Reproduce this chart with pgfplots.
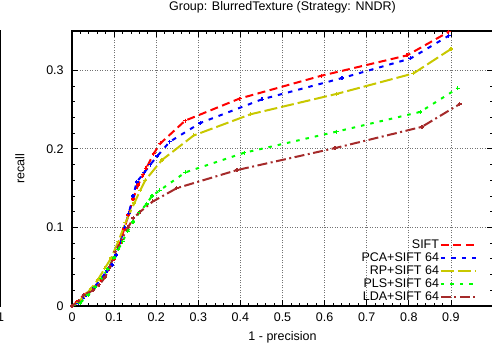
\documentclass[border=0pt]{standalone}
\usepackage{fontspec}
\setmainfont{Liberation Sans}
\usepackage{pgfplots}
\pgfplotsset{compat=1.18}

\definecolor{gpred}{RGB}{255,0,0}
\definecolor{gpblue}{RGB}{0,0,255}
\definecolor{gpyellow}{RGB}{200,200,0}
\definecolor{gpgreen}{RGB}{0,255,0}
\definecolor{gpbrown}{RGB}{165,42,42}

\pgfplotsset{
  gpframe/.style={
    scale only axis, width=421pt, height=275pt,
    xmin=0, xmax=1, ymin=0, ymax=0.35,
    axis line style={line width=1.5pt},
    tick style={black, line width=0.8pt},
    major tick length=6pt, minor tick length=3pt,
    tick align=inside,
    /pgf/number format/assume math mode=true,
    tick label style={font=\fontsize{12.5}{15}\selectfont},
    xticklabel style={yshift=-3pt},
    yticklabel style={xshift=-4.8pt},
  },
  curve/.style={line width=2pt, mark=+, mark size=2pt,
    mark options={solid, line width=1.3pt}},
}

\begin{document}
\begin{tikzpicture}[font=\fontsize{12.5}{15}\selectfont]
% neighbouring panel (only its right edge falls on the page)
\begin{axis}[gpframe, at={(-420.3pt,46pt)}, anchor=south west,
  xtick={1}, ytick=\empty, xtick style={draw=none}]
\addplot[draw=none] coordinates {(0.5,0.1)};
\end{axis}

\begin{axis}[gpframe, at={(72pt,46pt)}, anchor=south west,
  title={Group: BlurredTexture (Strategy: NNDR)},
  title style={at={(axis description cs:0.5,1.0527)}, anchor=base, inner sep=0pt},
  xlabel={1 - precision},
  xlabel style={at={(axis description cs:0.5,-0.126)}, anchor=base, inner sep=0pt},
  ylabel={recall},
  ylabel style={at={(axis description cs:-0.1235,0.5)}, anchor=center, rotate=0},
  xtick={0,0.1,...,0.9},
  ytick={0,0.1,0.2,0.3},
  minor x tick num=4, minor y tick num=4,
  grid=major,
  major grid style={dash pattern=on 1pt off 1.5pt, line width=0.8pt, black!55},
  legend plot pos=right,
  legend cell align=right,
  legend image code/.code={\draw[#1, mark=none] (0pt,0pt) -- (35pt,0pt);},
  legend style={draw=none, fill=none, at={(0.969,0.0)}, anchor=south east,
    row sep=0pt, font=\fontsize{12.5}{15}\selectfont,
    nodes={inner sep=0.75pt, text height=9pt, text depth=2.5pt}},
]
\addplot[gpred, curve, dash pattern=on 8pt off 4.5pt] coordinates {
(0,0) (0.012,0.005) (0.028,0.014) (0.05,0.022) (0.067,0.033) (0.085,0.045)
(0.10,0.06) (0.113,0.080) (0.124,0.098) (0.134,0.116) (0.145,0.136)
(0.157,0.154) (0.169,0.167) (0.176,0.175) (0.194,0.194) (0.210,0.207)
(0.269,0.236) (0.398,0.264) (0.592,0.293) (0.796,0.319) (0.895,0.349)};
\addlegendentry{SIFT}
\addplot[gpblue, curve, dash pattern=on 4.5pt off 6pt] coordinates {
(0,0) (0.015,0.004) (0.03,0.012) (0.05,0.022) (0.07,0.035) (0.083,0.045)
(0.095,0.052) (0.105,0.065) (0.115,0.082) (0.125,0.100) (0.135,0.118)
(0.145,0.140) (0.154,0.158) (0.172,0.170) (0.186,0.180) (0.203,0.191)
(0.232,0.209) (0.305,0.233) (0.451,0.263) (0.641,0.290) (0.804,0.315)
(0.895,0.344)};
\addlegendentry{PCA+SIFT 64}
\addplot[gpyellow, curve, dash pattern=on 13pt off 4pt] coordinates {
(0,0) (0.015,0.005) (0.03,0.013) (0.045,0.022) (0.061,0.033) (0.078,0.048)
(0.093,0.061) (0.11,0.082) (0.127,0.106) (0.148,0.131) (0.162,0.147)
(0.174,0.160) (0.214,0.186) (0.289,0.217) (0.424,0.244) (0.629,0.270)
(0.811,0.296) (0.900,0.327)};
\addlegendentry{RP+SIFT 64}
\addplot[gpgreen, curve, dash pattern=on 3.5pt off 6pt] coordinates {
(0,0) (0.02,0.004) (0.039,0.014) (0.055,0.024) (0.07,0.035) (0.085,0.047)
(0.099,0.061) (0.110,0.072) (0.120,0.082) (0.132,0.095) (0.145,0.107)
(0.160,0.119) (0.177,0.130) (0.190,0.140) (0.208,0.147) (0.269,0.170)
(0.409,0.195) (0.629,0.222) (0.827,0.247) (0.916,0.277)};
\addlegendentry{PLS+SIFT 64}
\addplot[gpbrown, curve, dash pattern=on 10pt off 3.5pt on 2pt off 3.5pt] coordinates {
(0,0) (0.015,0.006) (0.028,0.014) (0.05,0.020) (0.065,0.027) (0.079,0.037)
(0.09,0.050) (0.103,0.069) (0.118,0.085) (0.133,0.100) (0.146,0.112)
(0.162,0.120) (0.192,0.133) (0.249,0.150) (0.392,0.173) (0.625,0.201)
(0.831,0.228) (0.921,0.257)};
\addlegendentry{LDA+SIFT 64}
\end{axis}
\pgfresetboundingbox
\path[use as bounding box] (0pt,0pt) rectangle (492pt,352pt);
\end{tikzpicture}
\end{document}
